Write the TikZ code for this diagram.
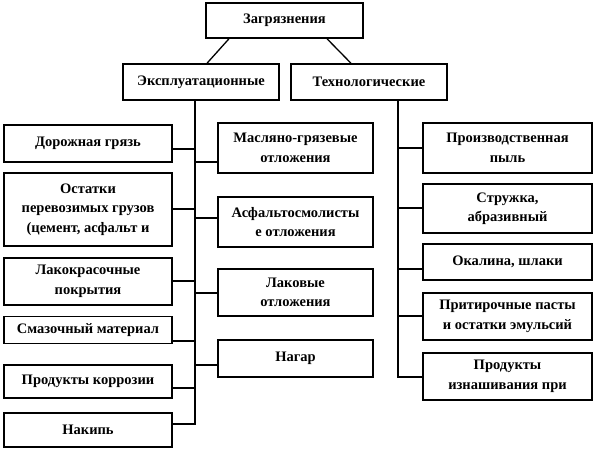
\documentclass[tikz,border=0pt]{standalone}
\usepackage{fontspec}
\setmainfont{Liberation Serif}
\begin{document}
\begin{tikzpicture}[x=1pt,y=-1pt,
  box/.style={draw=black, line width=1.5pt, fill=white, align=center, inner sep=2pt,
    font=\fontsize{14.5}{19.5}\selectfont\bfseries},
  link/.style={line width=2pt, line cap=rect}]
\useasboundingbox (0,0) rectangle (594,453);
\node[box, minimum width=157pt, minimum height=35pt] (top) at (284.5,20.5) {Загрязнения};
\node[box, minimum width=156pt, minimum height=36pt] (E) at (201,82) {Эксплуатационные};
\node[box, minimum width=156pt, minimum height=36pt] (T) at (369,82) {Технологические};
% left column
\node[box, minimum width=168pt, minimum height=37pt] (L1) at (88,143.5) {Дорожная грязь};
\node[box, minimum width=168pt, minimum height=73pt] (L2) at (88,209.5) {Остатки\\перевозимых грузов\\(цемент, асфальт и};
\node[box, minimum width=168pt, minimum height=47pt] (L3) at (88,281.5) {Лакокрасочные\\покрытия};
\node[box, minimum width=168pt, minimum height=27pt] (L4) at (88,330) {Смазочный материал};
\node[box, minimum width=168pt, minimum height=33pt] (L5) at (88,381.5) {Продукты коррозии};
\node[box, minimum width=168pt, minimum height=34pt] (L6) at (88,430) {Накипь};
% middle column
\node[box, minimum width=155pt, minimum height=50pt] (M1) at (295.5,148) {Масляно-грязевые\\отложения};
\node[box, minimum width=155pt, minimum height=50pt] (M2) at (295.5,222) {Асфальтосмолисты\\е отложения};
\node[box, minimum width=155pt, minimum height=47pt] (M3) at (295.5,292.5) {Лаковые\\отложения};
\node[box, minimum width=155pt, minimum height=37pt] (M4) at (295.5,358.5) {Нагар};
% right column
\node[box, minimum width=169pt, minimum height=50pt] (R1) at (507.5,148) {Производственная\\пыль};
\node[box, minimum width=169pt, minimum height=49pt] (R2) at (507.5,208.5) {Стружка,\\абразивный};
\node[box, minimum width=169pt, minimum height=36pt] (R3) at (507.5,262) {Окалина, шлаки};
\node[box, minimum width=169pt, minimum height=47pt] (R4) at (507.5,316.5) {Притирочные пасты\\и остатки эмульсий};
\node[box, minimum width=169pt, minimum height=47pt] (R5) at (507.5,376.5) {Продукты\\изнашивания при};
% trunks
\coordinate (tE) at (195,100);
\coordinate (bE) at (195,424);
\coordinate (tT) at (398,100);
\coordinate (bT) at (398,377);
\draw[line width=1.3pt] ([xshift=-55.5pt]top.south) -- ([xshift=6pt]E.north);
\draw[line width=1.3pt] ([xshift=42.5pt]top.south) -- ([xshift=-18pt]T.north);
\draw[link] (tE) -- (bE);
\draw[link] (tT) -- (bT);
% left connectors
\draw[link] ([yshift=-5.5pt]L1.east) -- ([yshift=-5.5pt]L1.east -| tE);
\draw[link] ([yshift=0.5pt]L2.east) -- ([yshift=0.5pt]L2.east -| tE);
\draw[link] ([yshift=0.5pt]L3.east) -- ([yshift=0.5pt]L3.east -| tE);
\draw[link] ([yshift=-11pt]L4.east) -- ([yshift=-11pt]L4.east -| tE);
\draw[link] ([yshift=-6.5pt]L5.east) -- ([yshift=-6.5pt]L5.east -| tE);
\draw[link] ([yshift=6pt]L6.east) -- ([yshift=6pt]L6.east -| tE);
% middle connectors
\draw[link] ([yshift=-14pt]M1.west) -- ([yshift=-14pt]M1.west -| tE);
\draw[link] ([yshift=4pt]M2.west) -- ([yshift=4pt]M2.west -| tE);
\draw[link] ([yshift=-0.5pt]M3.west) -- ([yshift=-0.5pt]M3.west -| tE);
\draw[link] ([yshift=-6.5pt]M4.west) -- ([yshift=-6.5pt]M4.west -| tE);
% right connectors
\draw[link] (R1.west) -- (R1.west -| tT);
\draw[link] ([yshift=0.5pt]R2.west) -- ([yshift=0.5pt]R2.west -| tT);
\draw[link] ([yshift=-7pt]R3.west) -- ([yshift=-7pt]R3.west -| tT);
\draw[link] ([yshift=0.5pt]R4.west) -- ([yshift=0.5pt]R4.west -| tT);
\draw[link] ([yshift=-0.5pt]R5.west) -- ([yshift=-0.5pt]R5.west -| tT);
\end{tikzpicture}
\end{document}
